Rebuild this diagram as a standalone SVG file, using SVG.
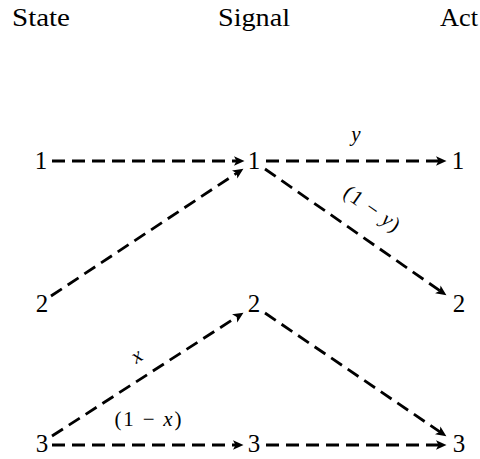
<svg xmlns="http://www.w3.org/2000/svg" width="480" height="459" viewBox="0 0 480 459">
<style>
.hdr{font-family:"Liberation Serif","Times New Roman",serif;font-size:25px;fill:#000}
.num{font-family:"Liberation Serif","Times New Roman",serif;font-size:25px;fill:#000;text-anchor:middle}
.lbl{font-family:"Liberation Serif","Times New Roman",serif;font-size:21px;fill:#000;text-anchor:middle}
.it{font-style:italic}
.edge{fill:none;stroke:#000;stroke-width:2.8;stroke-dasharray:13 7;marker-end:url(#arr)}
</style>
<defs>
<marker id="arr" markerUnits="userSpaceOnUse" markerWidth="14" markerHeight="12" viewBox="0 -6 12 12" refX="4" refY="0" orient="auto">
<path d="M0,-4.8 L10.5,0 L0,4.8 L2.5,0 Z" fill="#000"/>
</marker>
</defs>
<rect width="480" height="459" fill="#fff"/>
<g id="headers">
<text class="hdr" x="12" y="26" textLength="58" lengthAdjust="spacingAndGlyphs">State</text>
<text class="hdr" x="218" y="26" textLength="72" lengthAdjust="spacingAndGlyphs">Signal</text>
<text class="hdr" x="440" y="26" textLength="38" lengthAdjust="spacingAndGlyphs">Act</text>
</g>
<g id="connectors">
<path class="edge" d="M52,161 L238,161"/>
<path class="edge" d="M266,161 L440,161"/>
<path class="edge" d="M51,296 L238,172.3"/>
<path class="edge" d="M265,169 L441.1,291.6"/>
<path class="edge" d="M52,436 L238,316.2"/>
<path class="edge" d="M265,313 L441,432.6"/>
<path class="edge" d="M52,445 L237,445"/>
<path class="edge" d="M266,445 L440,445"/>
</g>
<g id="edge-labels">
<text class="lbl it" x="356" y="141">y</text>
<text class="lbl" transform="translate(371,210) rotate(35)" x="0" y="5" textLength="64" lengthAdjust="spacing">(1 − <tspan class="it">y</tspan>)</text>
<text class="lbl it" transform="translate(138,358) rotate(-33)" x="0" y="4">x</text>
<text class="lbl" x="148" y="426" textLength="67" lengthAdjust="spacing">(1 − <tspan class="it">x</tspan>)</text>
</g>
<g id="state-1"><text class="num" x="41" y="169">1</text></g>
<g id="state-2"><text class="num" x="42" y="312">2</text></g>
<g id="state-3"><text class="num" x="42" y="452">3</text></g>
<g id="signal-1"><text class="num" x="254" y="169">1</text></g>
<g id="signal-2"><text class="num" x="254" y="312">2</text></g>
<g id="signal-3"><text class="num" x="254" y="452">3</text></g>
<g id="act-1"><text class="num" x="458" y="169">1</text></g>
<g id="act-2"><text class="num" x="459" y="312">2</text></g>
<g id="act-3"><text class="num" x="459" y="452">3</text></g>
</svg>
